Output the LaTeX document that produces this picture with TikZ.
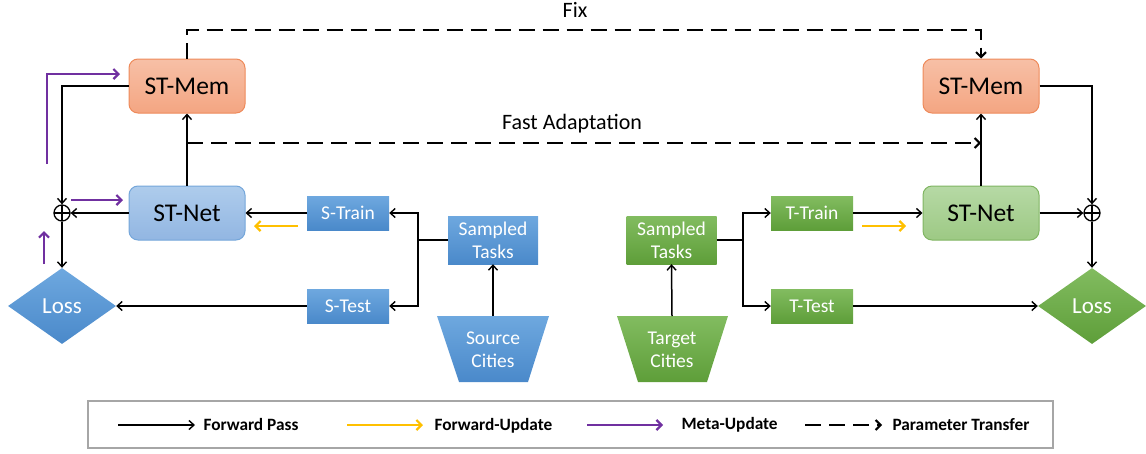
\documentclass[tikz,border=0pt]{standalone}
\usepackage{fontspec}
\setmainfont{Carlito}
\usetikzlibrary{arrows.meta,shapes.geometric,shadings}
\definecolor{memtop}{HTML}{F7C0A6}
\definecolor{membot}{HTML}{F4A582}
\definecolor{memdraw}{HTML}{EE8A5A}
\definecolor{nettop}{HTML}{AECCEC}
\definecolor{netbot}{HTML}{92B6E2}
\definecolor{netdraw}{HTML}{74A6DA}
\definecolor{gnettop}{HTML}{B6D9A5}
\definecolor{gnetbot}{HTML}{9DC984}
\definecolor{gnetdraw}{HTML}{80B562}
\definecolor{bluetop}{HTML}{6EA8DF}
\definecolor{bluebot}{HTML}{4A89CA}
\definecolor{greentop}{HTML}{82BC60}
\definecolor{greenbot}{HTML}{5E9E39}
\definecolor{metap}{HTML}{7030A0}
\definecolor{fwdup}{HTML}{FFC000}
\definecolor{legdraw}{HTML}{A6A6A6}
\tikzset{
  tip/.style={-{Straight Barb[length=5pt,width=9pt,line width=1.4pt]}},
  link/.style={draw=black, line width=1.5pt},
  fwd/.style={link, tip},
  xfer/.style={draw=black, line width=2.6pt, dash pattern=on 16pt off 8pt, -{Straight Barb[length=5pt,width=10pt,line width=2pt]}},
  meta/.style={draw=metap, line width=2.3pt, -{Straight Barb[length=5pt,width=10pt,line width=2.2pt]}},
  upd/.style={draw=fwdup, line width=2.3pt, -{Straight Barb[length=5pt,width=10pt,line width=2.2pt]}},
  big/.style={rounded corners=9pt, minimum width=116pt, minimum height=54pt, line width=1pt, font=\fontsize{25.5}{30}\selectfont},
  mem/.style={big, draw=memdraw, top color=memtop, bottom color=membot},
  netb/.style={big, draw=netdraw, top color=nettop, bottom color=netbot},
  netg/.style={big, draw=gnetdraw, top color=gnettop, bottom color=gnetbot},
  oplus/.style={circle, draw=black, line width=1.3pt, minimum size=16pt, inner sep=0pt,
    path picture={\draw[line width=1.3pt] (path picture bounding box.north) -- (path picture bounding box.south) (path picture bounding box.west) -- (path picture bounding box.east);}},
  lossbox/.style={diamond, aspect=1.42, minimum width=108pt, minimum height=76pt, inner sep=0pt, text=white, font=\fontsize{23}{27}\selectfont},
  lossb/.style={lossbox, top color=bluetop, bottom color=bluebot},
  lossg/.style={lossbox, top color=greentop, bottom color=greenbot},
  small/.style={minimum width=82pt, minimum height=34pt, inner sep=0pt, text=white, font=\fontsize{19.5}{23}\selectfont},
  sb/.style={small, top color=bluetop, bottom color=bluebot},
  gb/.style={small, top color=greentop, bottom color=greenbot},
  tasks/.style={minimum width=90pt, minimum height=48pt, inner sep=0pt, align=center, text=white, font=\fontsize{19.5}{23}\selectfont},
  sbt/.style={tasks, top color=bluetop, bottom color=bluebot},
  gbt/.style={tasks, top color=greentop, bottom color=greenbot},
  citytext/.style={align=center, text=white, font=\fontsize{19.5}{23}\selectfont},
  lbl/.style={font=\fontsize{22}{26}\selectfont},
  legtext/.style={anchor=west, font=\bfseries\fontsize{17.3}{20}\selectfont},
}
\begin{document}
\begin{tikzpicture}[x=1pt,y=-1pt]
\useasboundingbox (0,0) rectangle (1146,453);
% boxes
\node[mem] (memL) at (187,86) {ST-Mem};
\node[mem] (memR) at (981,86) {ST-Mem};
\node[netb] (netL) at (187,213) {ST-Net};
\node[netg] (netR) at (981,213) {ST-Net};
\node[oplus] (plL) at (62,213) {};
\node[oplus] (plR) at (1092,213) {};
\node[lossb] (lossL) at (62,306) {Loss};
\node[lossg] (lossR) at (1092,306) {Loss};
\node[sb] (strain) at (348,213) {S-Train};
\node[sb] (stest) at (348,306) {S-Test};
\node[sbt] (stasks) at (493,240) {Sampled\\Tasks};
\node[gb] (ttrain) at (812,213) {T-Train};
\node[gb] (ttest) at (812,306) {T-Test};
\node[gbt] (ttasks) at (671.5,240) {Sampled\\Tasks};
% cities
\path[top color=bluetop, bottom color=bluebot] (437,316) -- (549,316) -- (528,382) -- (459,382) -- cycle;
\path[top color=greentop, bottom color=greenbot] (617,316) -- (728,316) -- (707,382) -- (638,382) -- cycle;
\node[citytext] (scity) at (493,350) {Source\\Cities};
\node[citytext] (tcity) at (672,350) {Target\\Cities};
\coordinate (scitytop) at (493,316);
\coordinate (tcitytop) at (672,316);
% left side connectors
\draw[fwd] (memL.west) -| (plL.north);
\draw[fwd] (netL.west) -- (plL.east);
\draw[fwd] (plL.south) -- (lossL.north);
\draw[fwd] (netL.north) -- (memL.south);
\draw[fwd] (strain.west) -- (netL.east);
\draw[fwd] (stest.west) -- (lossL.east);
\coordinate (bs) at (418,240);
\draw[link] (stasks.west) -- (bs);
\draw[fwd] (bs) |- (strain.east);
\draw[fwd] (bs) |- (stest.east);
\draw[fwd] (scitytop) -- (stasks.south);
% right side connectors
\draw[fwd] (memR.east) -| (plR.north);
\draw[fwd] (netR.east) -- (plR.west);
\draw[fwd] (plR.south) -- (lossR.north);
\draw[fwd] (netR.north) -- (memR.south);
\draw[fwd] (ttrain.east) -- (netR.west);
\draw[fwd] (ttest.east) -- (lossR.west);
\coordinate (bt) at (743,240);
\draw[link] (ttasks.east) -- (bt);
\draw[fwd] (bt) |- (ttrain.west);
\draw[fwd] (bt) |- (ttest.west);
\draw[fwd] (tcitytop) -- (ttasks.south);
% parameter transfer
\coordinate (fixL) at (187,30);
\draw[xfer] (memL.north) -- (fixL) -| (memR.north);
\node[lbl] (fix) at (575,10) {Fix};
\coordinate (fa) at (187,143);
\draw[xfer] (fa) -- (fa -| memR.south);
\node[lbl] (fast) at (572,124) {Fast Adaptation};
% meta updates
\coordinate (m1a) at (47,164);
\coordinate (m1b) at (47,74);
\coordinate (m1c) at (120,74);
\draw[meta] (m1a) -- (m1b) -- (m1c);
\coordinate (m2a) at (71,200);
\coordinate (m2b) at (123,200);
\draw[meta] (m2a) -- (m2b);
\coordinate (m3a) at (44,264);
\coordinate (m3b) at (44,231);
\draw[meta] (m3a) -- (m3b);
% forward updates
\coordinate (u1a) at (298,226);
\coordinate (u1b) at (254,226);
\draw[upd] (u1a) -- (u1b);
\coordinate (u2a) at (862,226);
\coordinate (u2b) at (906,226);
\draw[upd] (u2a) -- (u2b);
% legend
\node[draw=legdraw, line width=1.5pt, minimum width=965pt, minimum height=47pt, inner sep=0pt] (legend) at (570.5,424.5) {};
\coordinate (l1a) at (118,425); \coordinate (l1b) at (195,425);
\draw[fwd] (l1a) -- (l1b);
\node[legtext] (t1) at (200,424) {Forward Pass};
\coordinate (l2a) at (347,425); \coordinate (l2b) at (423,425);
\draw[upd] (l2a) -- (l2b);
\node[legtext] (t2) at (431,426) {Forward-Update};
\coordinate (l3a) at (587,425); \coordinate (l3b) at (663,425);
\draw[meta] (l3a) -- (l3b);
\node[legtext] (t3) at (678,425) {Meta-Update};
\coordinate (l4a) at (805,425); \coordinate (l4b) at (882,425);
\draw[xfer] (l4a) -- (l4b);
\node[legtext] (t4) at (889,425) {Parameter Transfer};
\end{tikzpicture}
\end{document}
